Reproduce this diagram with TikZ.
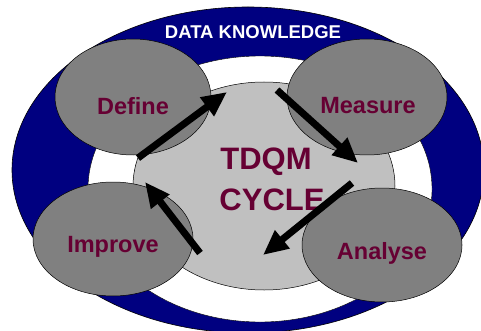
\documentclass[tikz,border=0pt]{standalone}
\usepackage{fontspec}
\setmainfont{Liberation Sans}
\usetikzlibrary{arrows.meta}
\definecolor{navyc}{HTML}{000080}
\definecolor{darkg}{HTML}{808080}
\definecolor{lightg}{HTML}{C0C0C0}
\definecolor{maroonc}{HTML}{660033}
\tikzset{
  phase/.style={draw=black, line width=0.5pt, fill=darkg},
  lbl/.style={text=maroonc, font=\fontsize{23.5}{26}\selectfont\bfseries},
  biglbl/.style={text=maroonc, font=\fontsize{31}{36}\selectfont\bfseries},
  bigarrow/.style={line width=7pt, -{Triangle[length=25pt,width=22pt]}, black}
}
\begin{document}
\begin{tikzpicture}[x=1pt,y=-1pt]
\useasboundingbox (0,0) rectangle (481,331);
\begin{scope}
\clip (0,0) rectangle (481,331);
\draw[fill=navyc, line width=0.6pt] (248,170) ellipse [x radius=236, y radius=163];
\end{scope}
\draw[fill=white, line width=0.4pt] (260,189) ellipse [x radius=172, y radius=133];
\draw[fill=lightg, line width=0.5pt] (264,186) ellipse [x radius=131, y radius=104];
\node[text=white, font=\fontsize{18.5}{20}\selectfont\bfseries] (dk) at (253,32) {DATA KNOWLEDGE};
\draw[phase] (133,97) ellipse [x radius=78, y radius=58];
\draw[phase] (367,97) ellipse [x radius=80, y radius=58];
\draw[phase] (113,239) ellipse [x radius=80, y radius=57];
\draw[phase] (382,245) ellipse [x radius=80, y radius=57];
\node[lbl] (define) at (133,106) {Define};
\node[lbl] (measure) at (368,106) {Measure};
\node[lbl] (improve) at (113,247) {Improve};
\node[lbl] (analyse) at (382,253) {Analyse};
\node[biglbl] (tdqm) at (266,162) {TDQM};
\node[biglbl] (cycle) at (272,200) {CYCLE};
\coordinate (a1s) at (138,158); \coordinate (a1e) at (227,92);
\coordinate (a2s) at (277,90); \coordinate (a2e) at (358,163);
\coordinate (a3s) at (352,183); \coordinate (a3e) at (263,255);
\coordinate (a4s) at (200,253); \coordinate (a4e) at (145,182);
\draw[bigarrow] (a1s) -- (a1e);
\draw[bigarrow] (a2s) -- (a2e);
\draw[bigarrow] (a3s) -- (a3e);
\draw[bigarrow] (a4s) -- (a4e);
\end{tikzpicture}
\end{document}
